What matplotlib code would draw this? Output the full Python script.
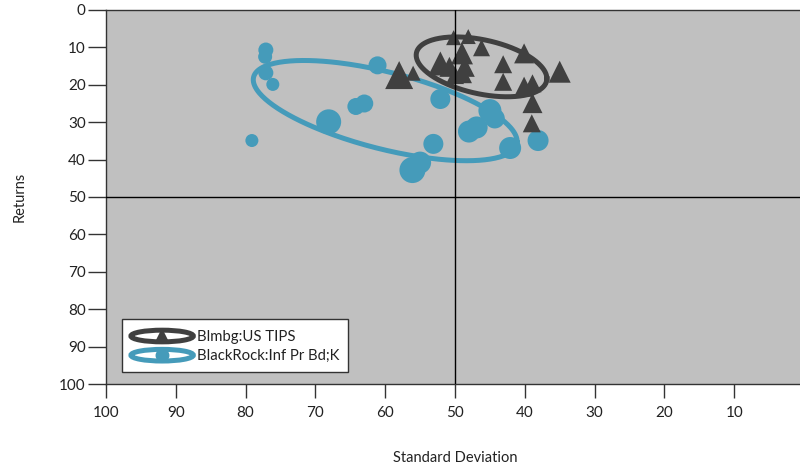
import numpy as np
import matplotlib.pyplot as plt
from matplotlib.patches import Ellipse
from matplotlib.lines import Line2D
from matplotlib.legend_handler import HandlerBase

plt.rcParams['font.family'] = ['Lato', 'DejaVu Sans']

# %% Data

# Blmbg:US TIPS (triangles)
tips_sd = [50.2, 48.1, 46.2, 49.0, 52.1, 50.8, 48.6, 49.0, 50.0, 43.1,
           43.1, 40.1, 40.1, 38.9, 38.9, 56.0, 58.0, 35.0, 39.0]
tips_ret = [7.4, 7.1, 10.1, 11.6, 14.3, 15.2, 15.2, 16.9, 17.4, 14.5,
            19.2, 11.6, 20.5, 19.6, 24.9, 16.9, 17.4, 16.5, 30.3]
tips_w = [15, 15, 17, 22, 24, 20, 20, 20, 18, 18,
          18, 20, 20, 18, 20, 15, 28, 22, 18]

# BlackRock:Inf Pr Bd;K (circles)
br_sd = [77.1, 77.2, 77.1, 76.1, 79.1, 61.1, 68.1, 64.2, 63.0, 52.1,
         53.1, 56.1, 55.0, 45.0, 44.3, 48.0, 46.9, 42.1, 38.1]
br_ret = [10.7, 12.5, 16.8, 19.9, 34.9, 14.8, 29.9, 25.8, 25.0, 23.8,
          35.8, 42.8, 40.8, 26.9, 29.0, 32.5, 31.4, 36.9, 34.9]
br_w = [15, 14, 15, 13, 13, 18, 25, 17, 18, 20,
        20, 26, 22, 23, 20, 22, 22, 22, 21]

# ellipses: centre sd, centre ret, half range sd, half range ret, phase (deg)
tips_ell = [46.2, 15.2, 9.36, 8.0, 67]
br_ell = [60.0, 26.9, 18.9, 13.4, 52]

dark = '#404040'
teal = '#459bba'

# %% Figure

fig = plt.figure(figsize=(8, 4.7), dpi=100)
ax = fig.add_axes([106/800, 86/470, 698/800, 374/470])
ax.set_facecolor('#c0c0c0')


def ring(e):
    t = np.linspace(0, 2*np.pi, 300)
    x = e[0] - e[2]*np.cos(t)
    y = e[1] + e[3]*np.cos(t - np.radians(e[4]))
    return x, y


def px2s(w):
    # marker width in pixels -> scatter size in pt^2
    return (np.array(w)*72/100.)**2


x, y = ring(br_ell)
ax.plot(x, y, color=teal, lw=3.6, zorder=2, solid_capstyle='round')
ax.scatter(br_sd, br_ret, s=px2s(br_w), color=teal, marker='o',
           linewidths=0, zorder=3)

x, y = ring(tips_ell)
ax.plot(x, y, color=dark, lw=3.6, zorder=4)
ax.scatter(tips_sd, tips_ret, s=px2s(tips_w), color=dark, marker='^',
           linewidths=0, zorder=5)

ax.axvline(50, color='black', lw=1, zorder=6)
ax.axhline(50, color='black', lw=1, zorder=6)

ax.set_xlim(100, 0)
ax.set_ylim(100, 0)
ax.set_xticks(np.arange(0, 101, 10))
ax.set_yticks(np.arange(0, 101, 10))
ax.tick_params(axis='y', direction='out', length=13, width=1, color='#333333',
               pad=1.5, labelsize=11, labelcolor='#222222')
ax.tick_params(axis='x', direction='out', length=10, width=1, color='#333333',
               pad=6, labelsize=11, labelcolor='#222222')
for s in ax.spines.values():
    s.set_color('#333333')
    s.set_linewidth(1)

ax.set_xlabel('Standard Deviation', fontsize=10.5, color='#222222', va='center')
ax.xaxis.set_label_coords(0.5, (384-458)/374)
ax.set_ylabel('Returns', fontsize=10.5, color='#222222', va='center')
ax.yaxis.set_label_coords((20-106)/698, 0.5)


# %% Legend


class HandlerRing(HandlerBase):
    def create_artists(self, legend, orig_handle, xdescent, ydescent,
                       width, height, fontsize, trans):
        cx = width/2 - xdescent
        cy = height/2 - ydescent
        c = orig_handle.get_color()
        e = Ellipse((cx, cy), width, height*0.72, fill=False, edgecolor=c,
                    lw=3.6, transform=trans)
        m = Line2D([cx], [cy], marker=orig_handle.get_marker(),
                   markersize=orig_handle.get_markersize(), color=c,
                   markeredgewidth=0, linestyle='none', transform=trans)
        return [e, m]


h1 = Line2D([], [], color=dark, marker='^', markersize=12)
h2 = Line2D([], [], color=teal, marker='o', markersize=10)
leg = ax.legend([h1, h2], ['Blmbg:US TIPS', 'BlackRock:Inf Pr Bd;K'],
                handler_map={Line2D: HandlerRing()},
                loc='upper left', bbox_to_anchor=((122-106)/698, (384-319)/374),
                fontsize=10.7, handlelength=4.2, handleheight=1.3,
                handletextpad=0.25, labelspacing=0.2, borderpad=0.6,
                borderaxespad=0, fancybox=False, framealpha=1,
                edgecolor='#333333', facecolor='white')
leg.get_frame().set_linewidth(1)
leg.set_zorder(7)
for t in leg.get_texts():
    t.set_color('#222222')

fig.savefig('out.png', dpi=100)
